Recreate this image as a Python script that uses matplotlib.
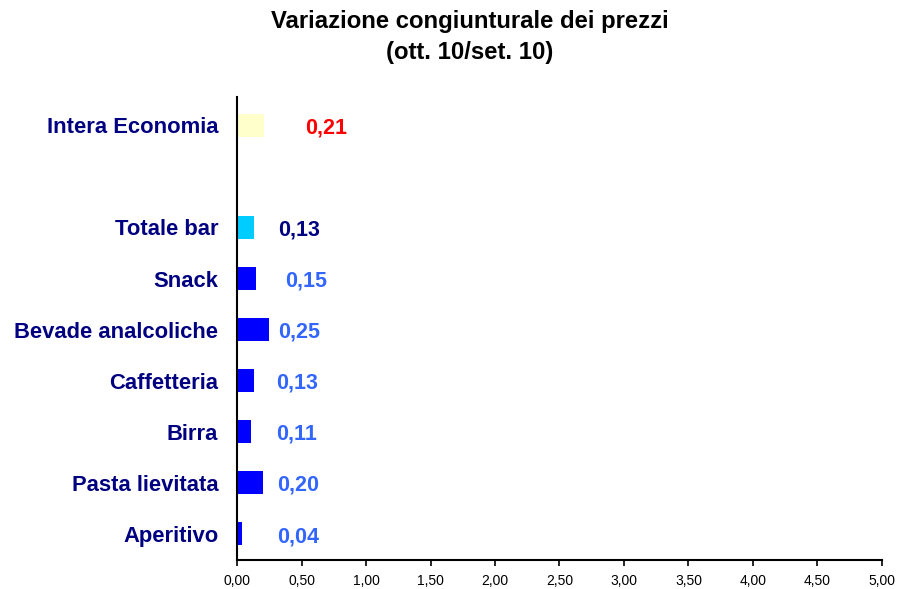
import matplotlib
matplotlib.use("Agg")
import matplotlib.pyplot as plt

# data, bottom to top ('' is the empty gap row)
categories = ["Aperitivo", "Pasta lievitata", "Birra", "Caffetteria",
              "Bevade analcoliche", "Snack", "Totale bar", "", "Intera Economia"]
values = [0.04, 0.20, 0.11, 0.13, 0.25, 0.15, 0.13, None, 0.21]
bar_colors = ["#0000FF"] * 6 + ["#00CCFF", "white", "#FFFFCC"]
label_colors = ["#3366FF"] * 6 + ["#000080", "white", "#FF0000"]
label_x = [0.31, 0.31, 0.30, 0.30, 0.32, 0.37, 0.32, 0, 0.53]
xticks = [0, 0.5, 1, 1.5, 2, 2.5, 3, 3.5, 4, 4.5, 5]

plt.rcParams['font.family'] = ['Liberation Sans', 'DejaVu Sans']

fig = plt.figure(figsize=(9.03, 5.89), dpi=100)
ax = fig.add_axes([0.2625, 0.0492, 0.7142, 0.7858])

pos = list(range(len(categories)))
for i, v in enumerate(values):
    if v is None:
        continue
    ax.barh(pos[i], v, height=0.45, color=bar_colors[i])
    ax.text(label_x[i], pos[i] - 0.05, "{:.2f}".format(v).replace(".", ","),
            color=label_colors[i], fontsize=15.5, fontweight='bold',
            ha='left', va='center')

ax.set_xlim(0, 5)
ax.set_ylim(-0.51, 8.55)
ax.set_xticks(xticks)
ax.set_xticklabels(["{:.2f}".format(t).replace(".", ",") for t in xticks], fontsize=10)
ax.set_yticks(pos)
ax.set_yticklabels(categories, fontsize=15.8, fontweight='bold', color='#000080')
ax.tick_params(axis='y', length=0, pad=13.5)
ax.tick_params(axis='x', length=4, width=1.2, direction='out', pad=6)

for s in ['top', 'right']:
    ax.spines[s].set_visible(False)
ax.spines['left'].set_linewidth(1.5)
ax.spines['bottom'].set_linewidth(1.5)

fig.text(0.52, 0.983, "Variazione congiunturale dei prezzi\n(ott. 10/set. 10)",
         ha='center', va='top', fontsize=17.2, fontweight='bold', linespacing=1.45)

fig.savefig("out.png", dpi=100)
